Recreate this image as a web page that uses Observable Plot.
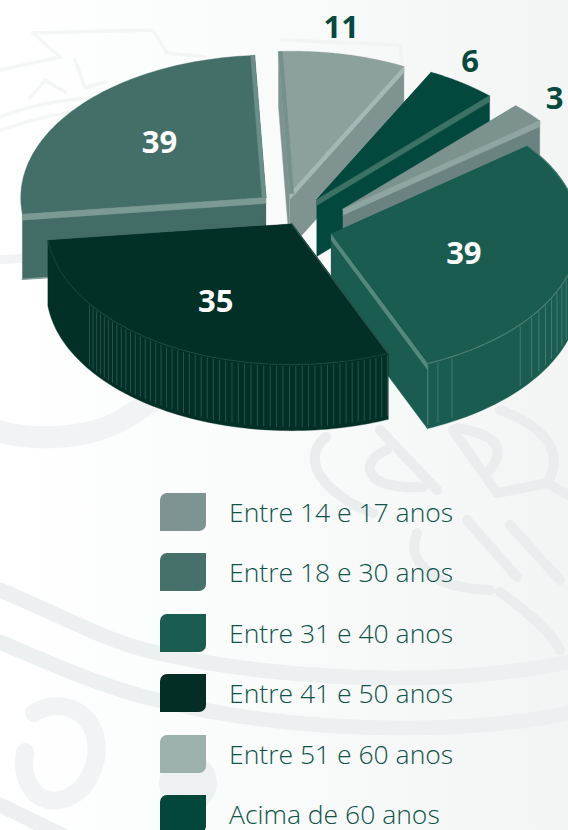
<!DOCTYPE html>
<html><head><meta charset="utf-8">
<script src="https://cdn.jsdelivr.net/npm/d3@7"></script>
<script src="https://cdn.jsdelivr.net/npm/@observablehq/plot@0.6"></script>
<style>
html,body{margin:0;padding:0;width:568px;height:830px;overflow:hidden;font-family:"Open Sans",sans-serif}
#page{position:relative;width:568px;height:830px;overflow:hidden;background:linear-gradient(90deg,#ffffff 0%,#fbfcfc 35%,#f3f5f5 100%)}
#wm,#chart{position:absolute;left:0;top:0}
#legend{position:absolute;left:0;top:0;width:568px;height:830px}
.sw{position:absolute;left:160px;width:46px;height:38px;border-radius:7px 0 7px 0}
.lb{position:absolute;left:229px;font-weight:300;font-size:26.5px;line-height:30px;color:#0f5447;white-space:nowrap}
</style>
</head><body><div id="page">
<svg id="wm" width="568" height="830" fill="none" stroke="#edf0f1" stroke-linecap="round" stroke-linejoin="round">
 <g stroke-width="15">
  <path d="M0 590C60 615 100 638 145 650C210 666 300 678 399 678C460 678 520 672 568 662"/>
  <path d="M0 642C60 668 100 685 145 697C210 714 300 728 399 728C460 728 520 724 568 713"/>
  <path d="M0 805L62 835"/>
 </g>
 <path stroke-width="22" d="M-5 430C30 442 90 440 125 418C150 404 165 392 175 380" opacity=".8"/>
 <path stroke-width="18" opacity=".8" d="M34 713C55 700 85 705 95 735C102 765 85 795 60 800C35 805 20 780 25 752"/>
 <circle cx="188" cy="783" r="29" fill="#eef1f2" stroke="none"/>
 <g stroke-width="10" stroke="#e9edee">
  <path d="M326 437C310 450 310 470 333 490C350 505 365 510 373 513M380 430L437 490M387 450C368 458 365 470 377 480C390 487 410 488 423 487"/>
  <path d="M453 430L497 493L547 483C562 460 555 430 500 410M490 470C505 450 500 435 457 428"/>
  <path d="M417 533C410 550 415 565 440 580C450 585 470 590 490 590M467 520L517 577M500 592C525 610 550 630 560 650"/>
  <path d="M547 483L568 495M510 525L560 580"/>
 </g>
 <g stroke-width="3.5" opacity=".55">
  <path d="M33 33L153 30L167 53L205 57M33 33L60 57L0 70M0 117C30 105 60 100 100 97M0 130C30 120 60 112 100 108"/>
  <path d="M30 98L45 80L65 92M75 60L85 88L105 82M282 40L400 45L402 62"/>
 </g>
 <path stroke-width="9" d="M-5 260L25 258" opacity=".8"/>
</svg>
<div id="chart"></div>
<div id="legend"></div>
</div>
<script>
// Data
const categories=["Entre 51 e 60 anos","Acima de 60 anos","Entre 14 e 17 anos","Entre 31 e 40 anos","Entre 41 e 50 anos","Entre 18 e 30 anos"];
const values=[11,6,3,39,35,39];
const legendOrder=["Entre 14 e 17 anos","Entre 18 e 30 anos","Entre 31 e 40 anos","Entre 41 e 50 anos","Entre 51 e 60 anos","Acima de 60 anos"];
const legendColors=["#7d9492","#45716a","#1b5c50","#022e26","#9cb0ad","#03473b"];
// Styling per slice
const topColors=["#8ca09c","#03483c","#7b928f","#1a5c50","#022f26","#446f68"];
const wallColors=["#7f9490","#03483c","#6a8381","#1a5c50","#022f26","#426c65"];
const bevelColors=["#a7b9b6","#3f7468","#90a6a3","#5b8a80",null,"#7f9d97"];
const sideColors=["#76908c",null,null,null,"#2b5349","#6a8f89"];
const depths=[55,57,57,65,66,65];
const labelFrac=[.43,.32,.5,.515,.474,.52];
const labelRad=[1.18,1.14,1.14,.555,.635,.58];
const drawOrder=[5,0,1,2,3,4];

// Oblique view of the pie: plane homography + angular warp + per-slice explosion
const total=d3.sum(values);
const V=[244.86717,14.45329,307.3152,7.15783,-142.47382,211.66062,-0.00514,-0.00535];
const rot=-0.05249;
const explode=[[-0.08145,0.12601],[0.0303,0.09171],[0.1402,0.02938],[0.10363,-0.14931],[-0.05961,-0.08677],[-0.17561,0.09336]];
const warp=[-0.09589,-0.02892,0.0396,-0.03002];
const W=a=>a+warp[0]*Math.sin(a)+warp[1]*Math.cos(a)+warp[2]*Math.sin(2*a)+warp[3]*Math.cos(2*a);
const H=(X,Y,dy=0)=>{const w=V[6]*X+V[7]*Y+1;return[(V[0]*X+V[1]*Y+V[2])/w,(V[3]*X+V[4]*Y+V[5])/w+dy];};
const pieAngles=d3.cumsum([0,...values]).map(c=>rot+c/total*2*Math.PI);

const poly=(pts,fill,opt={})=>Plot.line(pts,{x:d=>d[0],y:d=>d[1],fill,stroke:opt.stroke||fill,strokeWidth:opt.sw??.4,fillOpacity:opt.fo??1});
const hair=(pts,stroke,sw,so=1)=>Plot.line(pts,{x:d=>d[0],y:d=>d[1],stroke,strokeWidth:sw,strokeOpacity:so});
const sliceFns=values.map((v,i)=>{
 const a1=pieAngles[i],a2=pieAngles[i+1],[ox,oy]=explode[i];
 const at=(f,r=1,dy=0)=>{const a=W(a1+(a2-a1)*f);return H(ox+r*Math.sin(a),oy+r*Math.cos(a),dy);};
 return {at,o:(dy=0)=>H(ox,oy,dy)};
});
const fs=d3.range(0,1.0001,1/80);
const tickSpec={3:[...d3.range(.14,.42,.028),...d3.range(.44,.74,.028),.76,.945,.977,.999],4:d3.range(.002,.72,.0135)};
const roundedWall=new Set([3,4]);
const finalMarks=[];
for(const i of drawOrder){
 const {at,o}=sliceFns[i],d=depths[i];
 finalMarks.push(poly([o(),at(0),at(0,1,d),o(d)],wallColors[i]));
 finalMarks.push(poly([o(),at(1),at(1,1,d),o(d)],wallColors[i]));
 if(roundedWall.has(i)) finalMarks.push(poly([...fs.map(f=>at(f)),...fs.slice().reverse().map(f=>at(f,1,d))],wallColors[i]));
 for(const f of tickSpec[i]||[]) finalMarks.push(hair([at(f,1,2),at(f,1,d-4)],"#9fc0b8",.7,i===3?.45:.36));
 finalMarks.push(poly([o(),...fs.map(f=>at(f))],topColors[i]));
 const front=i===5?0:1,back=1-front;
 if(bevelColors[i]) finalMarks.push(poly([o(),at(front),at(front,1,6),o(6)],bevelColors[i],{fo:.95}));
 if(sideColors[i]){
  const n=i===0?1:i===5?-1:0;
  if(i===4) finalMarks.push(hair([o(),at(0)],sideColors[i],1.5));
  else finalMarks.push(poly([o(),at(back),[at(back)[0]+n*4,at(back)[1]],[o()[0]+n*4,o()[1]]],sideColors[i]));
 }
 if(i===3||i===4) finalMarks.push(hair(fs.map(f=>at(f)),i===3?"#4c8074":"#1d4a40",1.2,i===3?.9:.7));
 if(i===5) finalMarks.push(hair([at(0,1,d),o(d)],"#7f9d97",1.5));
}
// value labels
const labels=values.map((v,i)=>{const [x,y]=sliceFns[i].at(labelFrac[i],labelRad[i]);return {x,y,v,i};});
finalMarks.push(Plot.text(labels.filter(d=>d.i>=3),{x:"x",y:"y",text:d=>String(d.v),fill:"#ffffff",fontSize:31,fontWeight:700,fontFamily:"Open Sans",textAnchor:"middle"}));
finalMarks.push(Plot.text(labels.filter(d=>d.i<3),{x:"x",y:"y",text:d=>String(d.v),fill:"#054a3d",fontSize:31,fontWeight:700,fontFamily:"Open Sans",textAnchor:"middle"}));

document.getElementById("chart").append(Plot.plot({width:568,height:470,margin:0,style:{background:"transparent"},
 x:{domain:[0,568],range:[0,568],axis:null},y:{domain:[0,470],range:[0,470],axis:null},marks:finalMarks}));

// Legend
const lg=document.getElementById("legend");
legendOrder.forEach((t,i)=>{const top=493+i*60.4;
 const s=document.createElement("div");s.className="sw";s.style.top=top+"px";s.style.background=legendColors[i];lg.append(s);
 const l=document.createElement("div");l.className="lb";l.style.top=(top+4)+"px";l.textContent=t;lg.append(l);
});
</script></body></html>
